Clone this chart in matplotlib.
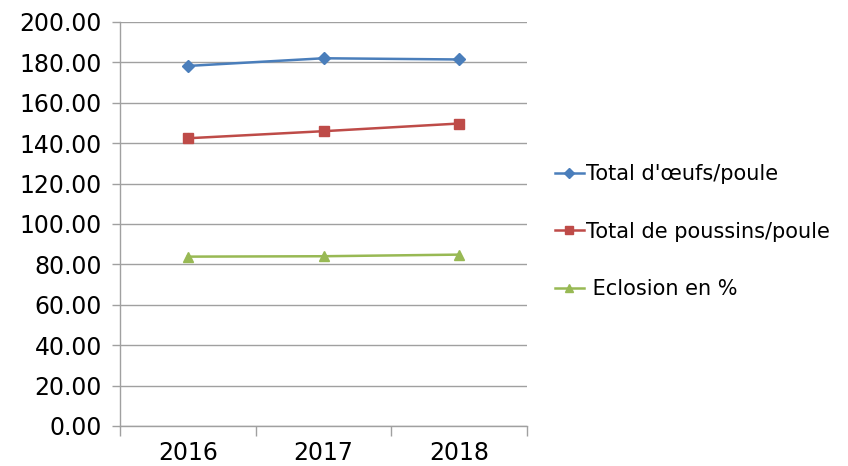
import matplotlib
matplotlib.use("Agg")
import matplotlib.pyplot as plt
from matplotlib.ticker import FuncFormatter, FixedLocator

years = ["2016", "2017", "2018"]
oeufs = [178.2, 182.0, 181.4]
poussins = [142.4, 145.9, 149.7]
eclosion = [83.8, 84.0, 84.8]

plt.rcParams['font.family'] = ['DejaVu Sans']

fig = plt.figure(figsize=(8.48, 4.66), dpi=100)
ax = fig.add_axes([0.1415, 0.086, 0.48, 0.867])
x = list(range(len(years)))

ax.plot(x, oeufs, color="#4A7EBB", marker="D", markersize=6, lw=1.8, label="Total d'œufs/poule")
ax.plot(x, poussins, color="#BE4B48", marker="s", markersize=7, lw=1.8, label="Total de poussins/poule")
ax.plot(x, eclosion, color="#98B954", marker="^", markersize=7, lw=1.8, label=" Eclosion en %")

ax.set_xlim(-0.5, 2.5)
ax.set_ylim(0, 200)
ax.set_yticks(range(0, 201, 20))
ax.yaxis.set_major_formatter(FuncFormatter(lambda v, p: f"{v:.2f}"))
ax.grid(axis="y", color="#A0A0A0", lw=1.0)
ax.set_axisbelow(True)

ax.set_xticks(x)
ax.set_xticklabels(years)
ax.xaxis.set_minor_locator(FixedLocator([-0.5, 0.5, 1.5, 2.5]))
ax.tick_params(axis="x", which="major", length=0, pad=11, labelsize=17)
ax.tick_params(axis="x", which="minor", length=7, color="#A0A0A0", width=1)
ax.tick_params(axis="y", length=6, color="#A0A0A0", width=1, labelsize=17, pad=7)

for s in ["top", "right"]:
    ax.spines[s].set_visible(False)
for s in ["left", "bottom"]:
    ax.spines[s].set_color("#A0A0A0")
    ax.spines[s].set_linewidth(1)

leg = fig.legend(loc="upper left", bbox_to_anchor=(0.632, 0.688), frameon=False,
                 fontsize=15, labelspacing=1.8, handlelength=1.4, handletextpad=0.1,
                 markerscale=0.85)

fig.savefig("out.png", dpi=100)
